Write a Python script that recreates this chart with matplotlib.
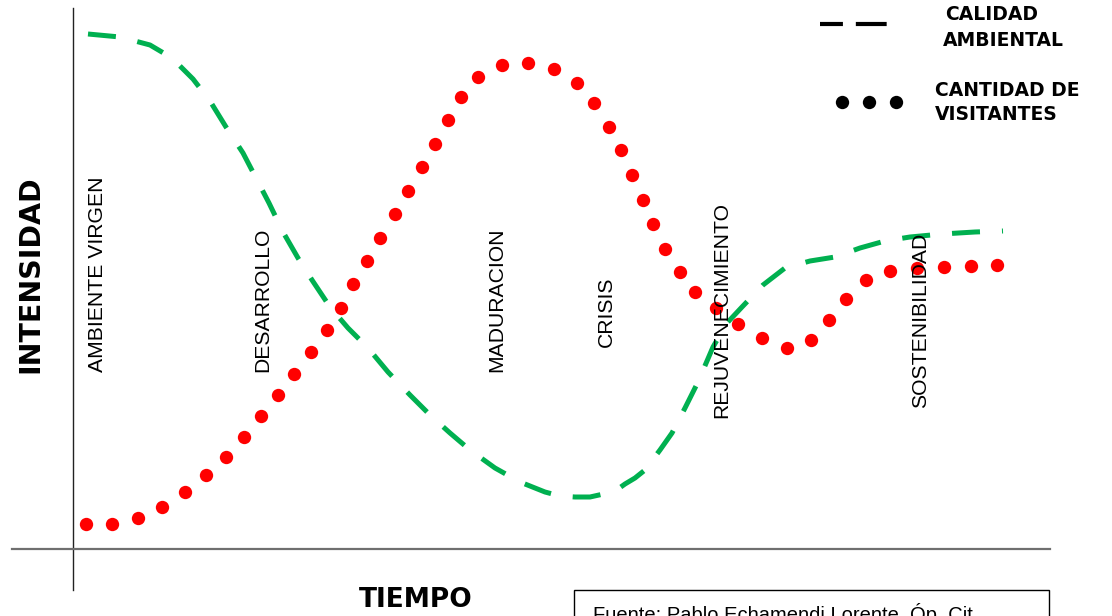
import matplotlib.pyplot as plt
from matplotlib.patches import Rectangle

# Cantidad de visitantes (puntos rojos)
visitantes_t = [13, 39, 65, 89, 112, 133, 153, 171, 188, 205, 221, 238, 254, 268, 280,
                294, 307, 322, 335, 349, 362, 375, 388, 405, 429, 455, 481, 504, 521, 536,
                548, 559, 570, 580, 592, 607, 622, 643, 665, 689, 714, 738, 756, 773, 793,
                817, 844, 871, 898, 924]
visitantes_i = [25, 25, 31, 42, 57, 74, 92, 112, 133, 154, 175, 197, 219, 241, 265,
                288, 311, 335, 358, 382, 405, 429, 452, 472, 484, 486, 480, 466, 446, 422,
                399, 374, 349, 325, 300, 277, 257, 241, 225, 211, 201, 209, 229, 250, 269,
                278, 281, 282, 283, 284]

# Calidad ambiental (linea verde discontinua)
calidad_t = [15, 47, 77, 99, 120, 137, 153, 170, 183, 196, 210, 225, 239, 257, 275,
             295, 315, 337, 357, 377, 397, 422, 447, 472, 487, 502, 517, 535, 545, 552,
             562, 572, 587, 599, 612, 625, 640, 654, 669, 690, 712, 737, 762, 787, 812,
             837, 869, 902, 930]
calidad_i = [515, 512, 504, 491, 470, 448, 422, 396, 371, 346, 317, 291, 269, 242, 221,
             201, 177, 154, 134, 116, 99, 81, 67, 57, 53, 52, 52, 56, 60, 65,
             71, 79, 99, 116, 141, 167, 202, 226, 242, 264, 281, 288, 292, 301, 308,
             312, 315, 317, 318]

# Etapas
etapas = ["AMBIENTE VIRGEN", "DESARROLLO", "MADURACION", "CRISIS", "REJUVENECIMIENTO", "SOSTENIBILIDAD"]
etapas_t = [24, 190, 424, 533, 649, 848]
etapas_i = [177, 177, 177, 202, 131, 141]

fig = plt.figure(figsize=(11.12, 6.16), dpi=100)
ax = fig.add_axes([0, 0, 1, 1])
ax.set_xlim(-73, 1039)
ax.set_ylim(-67, 549)
ax.axis('off')

# ejes
ax.plot([0, 0], [-41, 541], color='#222222', linewidth=1.0)
ax.plot([-61, 977], [0, 0], color='#6f6f6f', linewidth=1.6)

# curvas
ax.plot(calidad_t, calidad_i, color='#00b050', linewidth=3.6, dashes=(5.6, 4.4),
        dash_capstyle='butt')
ax.plot(visitantes_t, visitantes_i, 'o', color='#ff0000', markersize=9.6, markeredgewidth=0)

# nombres de etapas
for nombre, t, i in zip(etapas, etapas_t, etapas_i):
    ax.text(t, i, nombre, rotation=90, ha='center', va='bottom',
            fontsize=15.2, family='Liberation Sans')

# titulos de ejes
ax.text(-43, 275, "INTENSIDAD", rotation=90, ha='center', va='center',
        fontsize=20.5, fontweight='bold')
ax.text(343, -51, "TIEMPO", ha='center', va='center', fontsize=19, fontweight='bold')

# leyenda
ax.plot([747, 815], [525, 525], color='black', linewidth=3, dashes=(5.5, 3.1, 7.4, 20),
        dash_capstyle='butt')
ax.plot([769, 796, 823], [447, 447, 447], 'o', color='black', markersize=9.6, markeredgewidth=0)
ax.text(872, 534, "CALIDAD", ha='left', va='center', fontsize=13.5, fontweight='bold')
ax.text(870, 509, "AMBIENTAL", ha='left', va='center', fontsize=13.5, fontweight='bold')
ax.text(862, 459, "CANTIDAD DE", ha='left', va='center', fontsize=13.5, fontweight='bold')
ax.text(862, 434, "VISITANTES", ha='left', va='center', fontsize=13.5, fontweight='bold')

# fuente
ax.add_patch(Rectangle((501, -90), 475, 49, fill=False, edgecolor='black', linewidth=1.0))
ax.text(520, -54, "Fuente: Pablo Echamendi Lorente, Óp. Cit.", ha='left', va='top',
        fontsize=14.5, family='Liberation Sans')

plt.savefig('out.png', dpi=100)
